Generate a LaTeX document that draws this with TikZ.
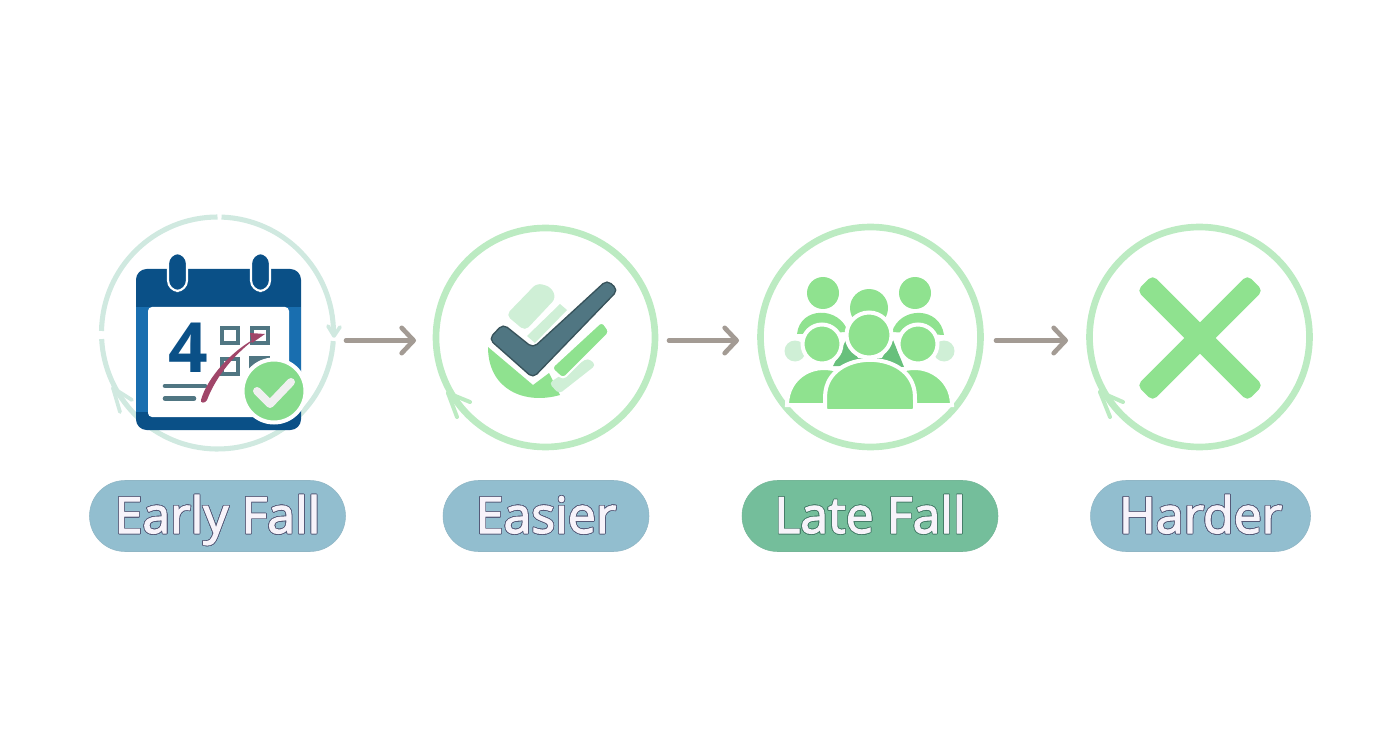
\documentclass[tikz,border=0pt]{standalone}
\usepackage{fontspec}
\setmainfont{Open Sans}
\usepackage{tikz}
\usepackage{contour}
\usetikzlibrary{arrows.meta,positioning}
\newfontfamily\pillfont{Open Sans}[FakeBold=2.2]
\contourlength{0.5pt}
\contournumber{24}
\definecolor{ringpale}{RGB}{208,233,224}
\definecolor{ringgreen}{RGB}{188,235,194}
\definecolor{icongreen}{RGB}{143,226,143}
\definecolor{darkgreen}{RGB}{104,192,124}
\definecolor{palegreen}{RGB}{207,239,214}
\definecolor{calnavy}{RGB}{10,80,135}
\definecolor{calblue}{RGB}{25,110,175}
\definecolor{slateblue}{RGB}{80,118,130}
\definecolor{pillblue}{RGB}{146,190,207}
\definecolor{pillgreen}{RGB}{116,190,155}
\definecolor{arrowgrey}{RGB}{163,155,148}
\definecolor{crimson}{RGB}{160,70,105}
\definecolor{textedge}{RGB}{85,90,120}
\definecolor{textedgegreen}{RGB}{70,125,105}
\definecolor{textwhite}{RGB}{247,243,250}
\newcommand{\pilltext}[2]{\contour{#1}{#2}}
\tikzset{
    ringline/.style={draw=ringgreen,line width=5pt},
    ringarc/.style={draw=ringpale,line width=3.8pt},
    ringtip/.style={draw=ringgreen,line width=3pt,line cap=round},
    paletip/.style={draw=ringpale,line width=2.8pt,line cap=round},
    pill/.style={rounded corners=35.5*0.75pt,minimum height=71*0.75pt,text=textwhite,font=\fontsize{37.5}{40}\selectfont\pillfont,inner sep=0pt,text height=30pt,text depth=4.5pt},
    stepnode/.style={circle,minimum size=226*0.75pt,inner sep=0pt},
    flowarrow/.style={draw=arrowgrey,line width=3.5pt,line cap=round,-{Straight Barb[length=9pt,width=19pt,line width=3.5pt,round]}},
    person/.style={fill=icongreen,draw=white,line width=3pt},
}
\begin{document}
\begin{tikzpicture}[x=0.75pt,y=0.75pt,yscale=-1,xscale=1]
    \useasboundingbox (0,0) rectangle (1392,752);
    % Step nodes
    \node[stepnode] (fallstep) at (217.5,333) {};
    \node[stepnode] (easystep) at (545.5,337.5) {};
    \node[stepnode] (latestep) at (870.5,337) {};
    \node[stepnode] (hardstep) at (1199.5,337) {};
    % Labels
    \node[pill,fill=pillblue,draw=pillblue!88!gray,minimum width=256*0.75pt] (falllabel) at (217.5,516) {\pilltext{textedge}{Early Fall}};
    \node[pill,fill=pillblue,draw=pillblue!88!gray,minimum width=206*0.75pt] (easylabel) at (546,516) {\pilltext{textedge}{Easier}};
    \node[pill,fill=pillgreen,draw=pillgreen!88!gray,minimum width=256*0.75pt] (latelabel) at (870,516) {\pilltext{textedgegreen}{Late Fall}};
    \node[pill,fill=pillblue,draw=pillblue!88!gray,minimum width=220*0.75pt] (hardlabel) at (1200.5,516) {\pilltext{textedge}{Harder}};
    % Connections
    \coordinate (a1) at (346,340.5);
    \coordinate (a2) at (416,340.5);
    \coordinate (b1) at (669,340.5);
    \coordinate (b2) at (739,340.5);
    \coordinate (c1) at (996,340.5);
    \coordinate (c2) at (1068,340.5);
    \draw[flowarrow] (a1) -- (a2);
    \draw[flowarrow] (b1) -- (b2);
    \draw[flowarrow] (c1) -- (c2);

    % Ring 1
    \draw[ringarc] (217.5,333) ++(-88:116) arc (-88:0:116);
    \draw[ringarc] (217.5,333) ++(4:116) arc (4:177:116);
    \draw[ringarc] (217.5,333) ++(181:116) arc (181:270:116);
    \draw[paletip] (113,388) -- (132,400);
    \draw[paletip] (113,388) -- (120,412);
    \draw[paletip] (113,388) -- (135,415);
    \draw[paletip] (334,336) -- (328,326);
    \draw[paletip] (334,336) -- (340,327);
    % Calendar
    \fill[calnavy,rounded corners=8pt] (136,269) rectangle (301,430);
    \fill[calblue] (136,307) rectangle (301,412);
    \fill[white,rounded corners=3pt] (148,307) rectangle (289,417);
    \fill[calnavy,draw=white,line width=1.6pt,rounded corners=8pt] (168,253) rectangle (187,291);
    \fill[calnavy,draw=white,line width=1.6pt,rounded corners=8pt] (251,253) rectangle (270,291);
    \node[text=calnavy,font=\fontsize{52}{54}\selectfont\bfseries] (datefour) at (188,348) {4};
    \draw[slateblue,line width=3.4pt] (222,328) rectangle (238,343);
    \draw[slateblue,line width=3.4pt] (252,328) rectangle (268,343);
    \draw[slateblue,line width=3.4pt] (222,359) rectangle (238,374);
    \fill[slateblue] (249,356) rectangle (270,375);
    \draw[slateblue,line width=3.4pt,line cap=round] (165,386) -- (205,386);
    \draw[slateblue,line width=3.4pt,line cap=round] (165,398.5) -- (194,398.5);
    \fill[crimson] (201,400) .. controls (207,378) and (232,350) .. (258,337) .. controls (236,352) and (216,376) .. (207,400) .. controls (205,404) and (200,403) .. (201,400) -- cycle;
    \fill[crimson] (250,333) -- (265,334) -- (252,343) -- cycle;
    \fill[icongreen!78!darkgreen,draw=white,line width=3pt] (274,391) circle (31.5);
    \draw[white!88!gray,line width=6pt,line cap=round,line join=round] (257,391) -- (270,404) -- (291,382);

    % Ring 2
    \draw[ringline] (545.5,337.5) circle (109.5);
    \draw[ringtip] (448,393) -- (470,402);
    \draw[ringtip] (448,393) -- (457,417);
    % Check icon
    \fill[palegreen,rounded corners=4pt] (506,315) -- (537,283) -- (551,287) -- (556,298) -- (525,331) -- cycle;
    \fill[palegreen] (527,336) -- (560,304) -- (567,310) -- (535,343) -- cycle;
    \fill[icongreen] (488,347) -- (533,385) -- (549,373) -- (560,395) .. controls (525,405) and (488,390) .. (488,347) -- cycle;
    \fill[palegreen,rounded corners=3pt] (549,383) -- (588,358) -- (596,365) -- (559,394) -- cycle;
    \fill[icongreen,draw=white,line width=1.5pt,rounded corners=3pt] (551,368) -- (602,321) -- (610,332) -- (563,379) -- cycle;
    \draw[draw=slateblue!70!black,fill=slateblue,line width=1pt,rounded corners=4pt] (489,339) -- (503,324) -- (533,348) -- (607,280) -- (618,290) -- (533,378) -- cycle;

    % Ring 3
    \draw[ringline] (870.5,337) circle (110);
    % People icon
    \fill[palegreen] (795,351) circle (10.5);
    \fill[palegreen] (944,351) circle (10.5);
    \fill[icongreen] (823,293) circle (16);
    \fill[icongreen] (915,293) circle (16);
    \fill[icongreen] (869,308) circle (19);
    \fill[icongreen] (797,334) .. controls (800,306) and (840,306) .. (848,332) -- cycle;
    \fill[icongreen] (892,332) .. controls (900,306) and (940,306) .. (944,335) -- cycle;
    \fill[darkgreen] (833,366) -- (846,340) -- (858,358) -- (882,358) -- (893,340) -- (904,367) -- cycle;
    \draw[person] (787,405) .. controls (787,376) and (816,360) .. (842,372) -- (842,405) -- cycle;
    \draw[person] (952,405) .. controls (952,376) and (922,360) .. (897,372) -- (897,405) -- cycle;
    \draw[person] (822,344) circle (19.5);
    \draw[person] (918,344) circle (19.5);
    \draw[person] (869,335) circle (22.5);
    \draw[person,rounded corners=2pt] (825,411) -- (825,398) .. controls (827,348) and (913,348) .. (915,398) -- (915,411) -- cycle;

    % Ring 4
    \draw[ringline] (1199.5,337) circle (110);
    \draw[ringtip] (1100,392) -- (1123,402);
    \draw[ringtip] (1100,392) -- (1110,417);
    \fill[icongreen,rounded corners=4pt,rotate around={45:(1200,338)}] (1122,327) rectangle (1278,349);
    \fill[icongreen,rounded corners=4pt,rotate around={-45:(1200,338)}] (1122,327) rectangle (1278,349);
\end{tikzpicture}
\end{document}
